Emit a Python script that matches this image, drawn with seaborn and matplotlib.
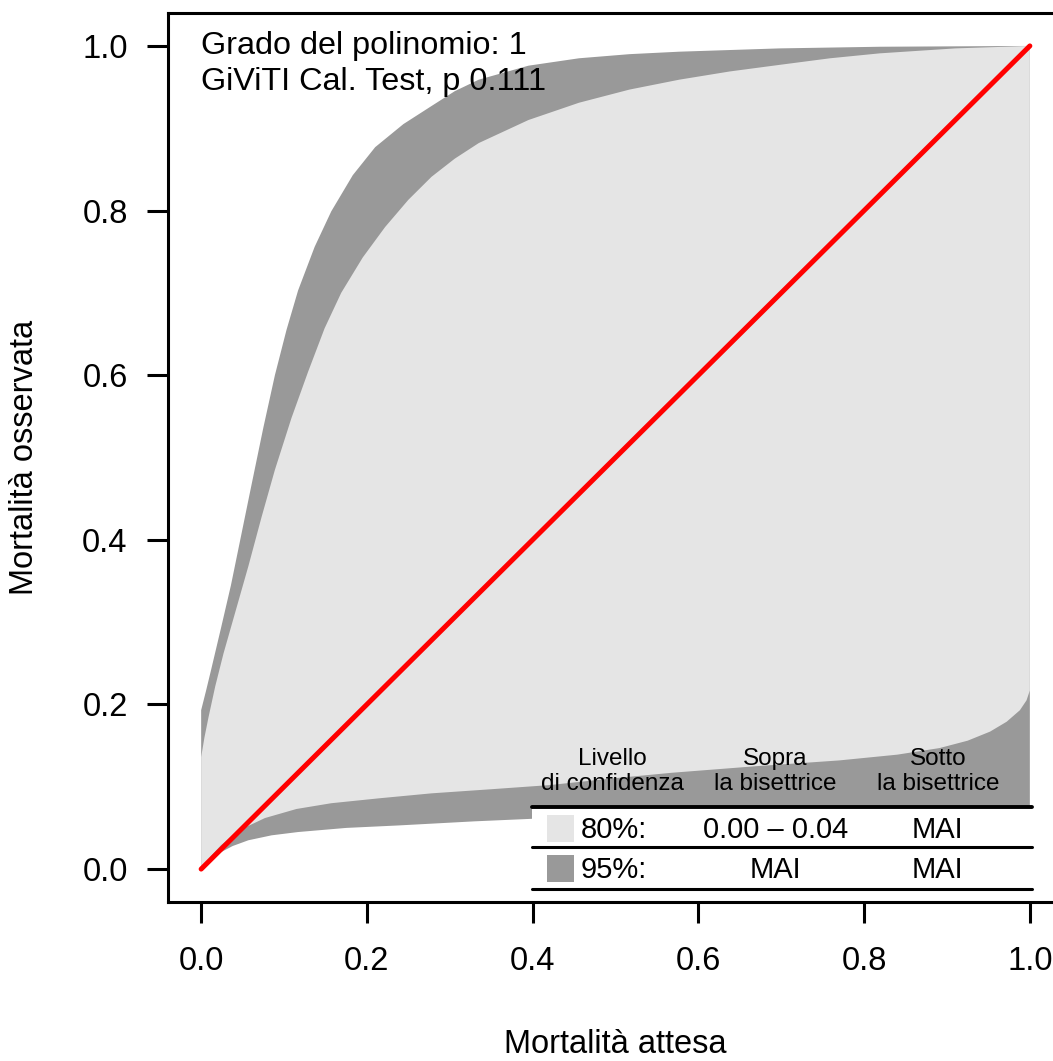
import numpy as np
import matplotlib
matplotlib.use("Agg")
import matplotlib.pyplot as plt
import seaborn as sns

# calibration belt boundaries
upper95_x = [0, 0.006, 0.012, 0.024, 0.036, 0.048, 0.060, 0.075, 0.089, 0.103, 0.117, 0.137,
             0.157, 0.183, 0.210, 0.244, 0.278, 0.306, 0.335, 0.395, 0.456, 0.517, 0.577,
             0.698, 0.819, 1.0]
upper95_y = [0.193, 0.217, 0.242, 0.293, 0.345, 0.404, 0.463, 0.536, 0.600, 0.655, 0.703, 0.756,
             0.799, 0.843, 0.877, 0.905, 0.927, 0.945, 0.959, 0.976, 0.985, 0.990, 0.993,
             0.997, 0.999, 1.0]
lower95_x = [0, 0.010, 0.021, 0.038, 0.057, 0.085, 0.117, 0.175, 0.238, 0.330, 0.420, 0.540,
             0.661, 0.830, 1.0]
lower95_y = [0, 0.010, 0.019, 0.028, 0.035, 0.041, 0.045, 0.050, 0.053, 0.058, 0.062, 0.065,
             0.068, 0.070, 0.072]

upper80_x = [0, 0.004, 0.009, 0.017, 0.027, 0.042, 0.057, 0.073, 0.089, 0.109, 0.129, 0.149,
             0.169, 0.195, 0.222, 0.250, 0.278, 0.306, 0.335, 0.395, 0.456, 0.517, 0.577,
             0.638, 0.698, 0.759, 0.819, 0.910, 1.0]
upper80_y = [0.136, 0.160, 0.185, 0.222, 0.262, 0.315, 0.368, 0.428, 0.485, 0.548, 0.604, 0.657,
             0.700, 0.743, 0.780, 0.813, 0.841, 0.863, 0.882, 0.910, 0.931, 0.947, 0.959,
             0.969, 0.977, 0.985, 0.991, 0.997, 1.0]
lower80_x = [0, 0.012, 0.024, 0.036, 0.056, 0.077, 0.115, 0.157, 0.215, 0.278, 0.350, 0.420,
             0.495, 0.568, 0.670, 0.770, 0.840, 0.891, 0.925, 0.952, 0.972, 0.988, 0.996, 1.0]
lower80_y = [0, 0.016, 0.029, 0.039, 0.052, 0.062, 0.073, 0.080, 0.086, 0.092, 0.097, 0.102,
             0.110, 0.117, 0.125, 0.132, 0.139, 0.147, 0.156, 0.167, 0.179, 0.193, 0.205, 0.217]

bisector = [0.0, 1.0]
ticks = [0.0, 0.2, 0.4, 0.6, 0.8, 1.0]
tick_labels = ["0.0", "0.2", "0.4", "0.6", "0.8", "1.0"]

info_lines = ["Grado del polinomio: 1", "GiViTI Cal. Test, p 0.111"]
table_header = ["Livello\ndi confidenza", "Sopra\nla bisettrice", "Sotto\nla bisettrice"]
table_levels = ["80%:", "95%:"]
table_above = ["0.00 \u2013 0.04", "MAI"]
table_below = ["MAI", "MAI"]

dark_grey = "#999999"
light_grey = "#E5E5E5"

sns.set_theme(style="ticks", rc={"text.color": "black", "axes.labelcolor": "black",
                                 "xtick.color": "black", "ytick.color": "black",
                                 "axes.edgecolor": "black"})
plt.rcParams["font.family"] = ["Liberation Sans", "DejaVu Sans"]

fig = plt.figure(figsize=(10.53, 10.61), dpi=100)
# right edge of the box falls outside the figure, as in the reference
ax = fig.add_axes([168 / 1053, 159 / 1061, 895 / 1053, 889 / 1061])

# 95% belt then 80% belt on top
ax.fill(upper95_x + lower95_x[::-1], upper95_y + lower95_y[::-1],
        color=dark_grey, lw=0, zorder=1)
ax.fill(upper80_x + lower80_x[::-1], upper80_y + lower80_y[::-1],
        color=light_grey, lw=0, zorder=2)

sns.lineplot(x=bisector, y=bisector, ax=ax, color="red", lw=3.6,
             solid_capstyle="round", zorder=5)

ax.set_xlim(-0.04, 1.04)
ax.set_ylim(-0.04, 1.04)
ax.set_xticks(ticks)
ax.set_xticklabels(tick_labels)
ax.set_yticks(ticks)
ax.set_yticklabels(tick_labels)
ax.tick_params(axis="both", direction="out", length=15, width=2.2,
               labelsize=23.5)
ax.tick_params(axis="x", pad=17)
ax.tick_params(axis="y", pad=14)
for sp in ax.spines.values():
    sp.set_visible(True)
    sp.set_linewidth(2.2)

ax.set_xlabel("Mortalità attesa", fontsize=23.5)
ax.set_ylabel("Mortalità osservata", fontsize=23.5)
ax.xaxis.set_label_coords(0.5, -0.160)
ax.xaxis.label.set_va("center")
ax.yaxis.set_label_coords(-0.160, 0.5)
ax.yaxis.label.set_va("center")

# info text in top left
ax.text(0.0, 1.0, info_lines[0], fontsize=23.3, ha="left", va="center", zorder=6)
ax.text(0.0, 0.956, info_lines[1], fontsize=23.3, ha="left", va="center", zorder=6)

# summary table in the bottom right
x0, x1 = 0.399, 1.002
ax.fill_between([x0, x1], -0.0243, 0.0753, color="white", lw=0, zorder=3)
ax.plot([x0, x1], [0.0753, 0.0753], color="black", lw=2.8, zorder=6)
ax.plot([x0, x1], [0.0267, 0.0267], color="black", lw=2.2, zorder=6)
ax.plot([x0, x1], [-0.0243, -0.0243], color="black", lw=2.2, zorder=6)

col_x = [0.496, 0.693, 0.889]
for cx, h in zip(col_x, table_header):
    ax.text(cx, 0.1185, h, fontsize=17.5, ha="center", va="center",
            linespacing=1.2, zorder=6)

row_y = [0.0474, -0.0012]
box_y = [0.0492, 0.0006]
for i, col in enumerate([light_grey, dark_grey]):
    ax.add_patch(plt.Rectangle((0.417, box_y[i] - 0.0164), 0.033, 0.0328,
                               color=col, lw=0, zorder=6))
    ax.text(0.458, row_y[i], table_levels[i], fontsize=21, ha="left", va="center", zorder=6)
    ax.text(col_x[1], row_y[i], table_above[i], fontsize=21, ha="center", va="center", zorder=6)
    ax.text(col_x[2], row_y[i], table_below[i], fontsize=21, ha="center", va="center", zorder=6)

fig.savefig("out.png", dpi=100)
